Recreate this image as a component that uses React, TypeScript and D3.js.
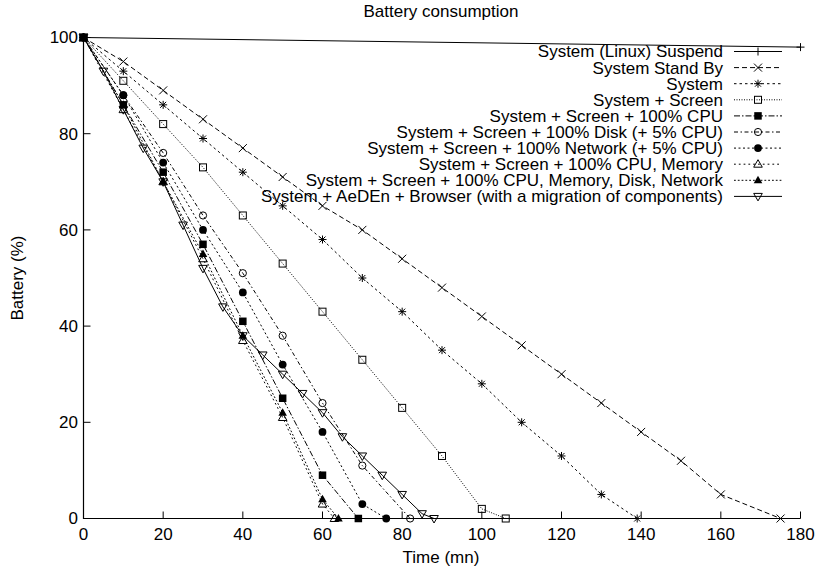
import React from "react";
import * as d3 from "d3";

const suspendT = [0, 180];
const suspendV = [100, 98];
const standbyT = [0, 10, 20, 30, 40, 50, 60, 70, 80, 90, 100, 110, 120, 130, 140, 150, 160, 175];
const standbyV = [100, 95, 89, 83, 77, 71, 65, 60, 54, 48, 42, 36, 30, 24, 18, 12, 5, 0];
const systemT = [0, 10, 20, 30, 40, 50, 60, 70, 80, 90, 100, 110, 120, 130, 139];
const systemV = [100, 93, 86, 79, 72, 65, 58, 50, 43, 35, 28, 20, 13, 5, 0];
const screenT = [0, 10, 20, 30, 40, 50, 60, 70, 80, 90, 100, 106];
const screenV = [100, 91, 82, 73, 63, 53, 43, 33, 23, 13, 2, 0];
const cpuT = [0, 10, 20, 30, 40, 50, 60, 69];
const cpuV = [100, 86, 72, 57, 41, 25, 9, 0];
const diskT = [0, 10, 20, 30, 40, 50, 60, 70, 82];
const diskV = [100, 88, 76, 63, 51, 38, 24, 11, 0];
const netT = [0, 10, 20, 30, 40, 50, 60, 70, 76];
const netV = [100, 88, 74, 60, 47, 32, 18, 3, 0];
const memT = [0, 10, 20, 30, 40, 50, 60, 63];
const memV = [100, 85, 70, 54, 37, 21, 3, 0];
const fullT = [0, 10, 20, 30, 40, 50, 60, 64];
const fullV = [100, 86, 70, 55, 38, 22, 4, 0];
const aedenT = [0, 5, 10, 15, 20, 25, 30, 35, 40, 45, 50, 55, 60, 65, 70, 75, 80, 85, 88];
const aedenV = [100, 93, 85, 77, 70, 61, 52, 44, 38, 34, 30, 26, 22, 17, 13, 9, 5, 1, 0];

const labels = [
  "System (Linux) Suspend",
  "System Stand By",
  "System",
  "System + Screen",
  "System + Screen + 100% CPU",
  "System + Screen + 100% Disk (+ 5% CPU)",
  "System + Screen + 100% Network (+ 5% CPU)",
  "System + Screen + 100% CPU, Memory",
  "System + Screen + 100% CPU, Memory, Disk, Network",
  "System + AeDEn + Browser (with a migration of components)",
];

const xTicks = [0, 20, 40, 60, 80, 100, 120, 140, 160, 180];
const yTicks = [0, 20, 40, 60, 80, 100];

const seriesT = [suspendT, standbyT, systemT, screenT, cpuT, diskT, netT, memT, fullT, aedenT];
const seriesV = [suspendV, standbyV, systemV, screenV, cpuV, diskV, netV, memV, fullV, aedenV];
const dashes = ["", "5,3", "2.5,3", "1,1.5", "6,2,1.5,2", "4,2.5,1.5,2.5", "2,2.5", "1.8,3", "1.8,2", ""];
const markers = ["plus", "cross", "star", "osq", "fsq", "ocirc", "fcirc", "otri", "ftri", "odtri"];

const FONT = "'Liberation Sans', Arial, Helvetica, sans-serif";
const FS = 17;

function Marker({ kind, x, y }: { kind: string; x: number; y: number }) {
  const s = 4;
  const st = { stroke: "#000", strokeWidth: 1 };
  switch (kind) {
    case "plus":
      return <path d={`M${x - s},${y}H${x + s}M${x},${y - s}V${y + s}`} {...st} fill="none" />;
    case "cross":
      return <path d={`M${x - s},${y - s}L${x + s},${y + s}M${x - s},${y + s}L${x + s},${y - s}`} {...st} fill="none" />;
    case "star":
      return (
        <path
          d={`M${x - s},${y}H${x + s}M${x},${y - s}V${y + s}M${x - 3},${y - 3}L${x + 3},${y + 3}M${x - 3},${y + 3}L${x + 3},${y - 3}`}
          {...st}
          fill="none"
        />
      );
    case "osq":
      return <rect x={x - 3.5} y={y - 3.5} width={7} height={7} {...st} fill="none" />;
    case "fsq":
      return <rect x={x - 3.75} y={y - 3.75} width={7.5} height={7.5} fill="#000" />;
    case "ocirc":
      return <circle cx={x} cy={y} r={3.6} {...st} fill="none" />;
    case "fcirc":
      return <circle cx={x} cy={y} r={3.9} fill="#000" />;
    case "otri":
      return <path d={`M${x},${y - 4.5}L${x + 4.3},${y + 3}L${x - 4.3},${y + 3}Z`} {...st} fill="none" />;
    case "ftri":
      return <path d={`M${x},${y - 4.5}L${x + 4.3},${y + 3}L${x - 4.3},${y + 3}Z`} fill="#000" />;
    case "odtri":
      return <path d={`M${x},${y + 4.5}L${x + 4.3},${y - 3}L${x - 4.3},${y - 3}Z`} {...st} fill="none" />;
  }
  return null;
}

export default function App() {
  const W = 816;
  const H = 569;
  const x = d3.scaleLinear().domain([0, 180]).range([83.5, 800.5]);
  const y = d3.scaleLinear().domain([0, 100]).range([518.5, 37.5]);
  const line = d3
    .line<[number, number]>()
    .x((d) => x(d[0]))
    .y((d) => y(d[1]));

  const legendX = 723;
  const legendY0 = 51.5;
  const legendDy = 16.1;

  return (
    <svg width={W} height={H} style={{ position: "absolute", left: 0, top: 0, background: "#fff" }} fontFamily={FONT}>
      <rect width={W} height={H} fill="#fff" />
      <text x={441} y={17} textAnchor="middle" fontSize={FS}>
        Battery consumption
      </text>
      {/* axes */}
      <path d={`M${x(0)},${y(100)}V${y(0)}H${x(180)}`} stroke="#000" strokeWidth={1.2} fill="none" />
      {xTicks.map((t) => (
        <g key={"xt" + t}>
          <line x1={x(t)} x2={x(t)} y1={y(0)} y2={y(0) - 7} stroke="#000" strokeWidth={1} />
          <text x={x(t)} y={540} textAnchor="middle" fontSize={FS}>
            {t}
          </text>
        </g>
      ))}
      {yTicks.map((v) => (
        <g key={"yt" + v}>
          <line x1={x(0)} x2={x(0) + 7} y1={y(v)} y2={y(v)} stroke="#000" strokeWidth={1} />
          <text x={78} y={y(v)} dy="0.35em" textAnchor="end" fontSize={FS}>
            {v}
          </text>
        </g>
      ))}
      <text x={441} y={563} textAnchor="middle" fontSize={FS}>
        Time (mn)
      </text>
      <text transform={`translate(23,${(y(0) + y(100)) / 2}) rotate(-90)`} textAnchor="middle" fontSize={FS}>
        Battery (%)
      </text>
      {/* series */}
      {seriesT.map((ts, i) => {
        const pts: [number, number][] = ts.map((t, j) => [t, seriesV[i][j]]);
        return (
          <g key={"s" + i}>
            <path d={line(pts) || ""} fill="none" stroke="#000" strokeWidth={1} strokeDasharray={dashes[i] || undefined} />
            {pts.map((p, j) => (
              <Marker key={j} kind={markers[i]} x={x(p[0])} y={y(p[1])} />
            ))}
          </g>
        );
      })}
      {/* legend */}
      {labels.map((lab, i) => {
        const ly = legendY0 + i * legendDy;
        return (
          <g key={"l" + i}>
            <text x={legendX} y={ly} dy="0.35em" textAnchor="end" fontSize={FS}>
              {lab}
            </text>
            <line x1={734} x2={782} y1={ly} y2={ly} stroke="#000" strokeWidth={1} strokeDasharray={dashes[i] || undefined} />
            <Marker kind={markers[i]} x={758} y={ly} />
          </g>
        );
      })}
    </svg>
  );
}
